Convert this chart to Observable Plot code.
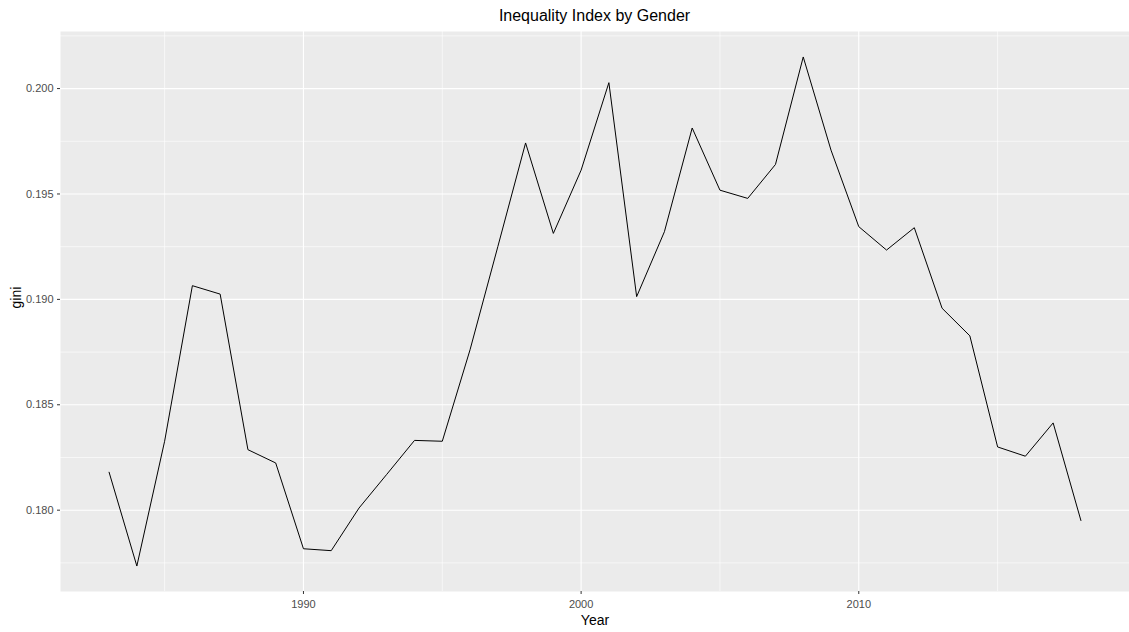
<!DOCTYPE html>
<html>
<head>
<meta charset="utf-8">
<script src="https://cdn.jsdelivr.net/npm/d3@7"></script>
<script src="https://cdn.jsdelivr.net/npm/@observablehq/plot@0.6"></script>
<style>
  html, body { margin: 0; padding: 0; background: white; }
  #title {
    width: 1129px; height: 31px; box-sizing: border-box; padding-left: 60px;
    text-align: center; line-height: 31px;
    font-family: "Liberation Sans", Arial, sans-serif; font-size: 16px; color: #000;
  }
  #chart svg { display: block; }
</style>
</head>
<body>
<div id="title">Inequality Index by Gender</div>
<div id="chart"></div>
<script>
const years = [1983,1984,1985,1986,1987,1988,1989,1990,1991,1992,1993,1994,1995,1996,1997,1998,1999,2000,
  2001,2002,2003,2004,2005,2006,2007,2008,2009,2010,2011,2012,2013,2014,2015,2016,2017,2018];
const gini = [0.1818,0.17735,0.18327,0.19065,0.19025,0.18287,0.18224,0.17817,0.17808,0.18010,0.18170,0.18331,0.18327,
  0.18761,0.19250,0.19742,0.19313,0.19613,0.20028,0.19013,0.19321,0.19813,0.19518,0.19479,0.19640,0.20150,
  0.19708,0.19345,0.19234,0.19340,0.18958,0.18827,0.18300,0.18256,0.18414,0.17951];
const xMajor = [1990, 2000, 2010];
const xMinor = [1985, 1995, 2005, 2015];
const yMajor = [0.180, 0.185, 0.190, 0.195, 0.200];
const yMinor = [0.1775, 0.1825, 0.1875, 0.1925, 0.1975, 0.2025];
const xLabel = "Year";
const yLabel = "gini";

const data = years.map((y, i) => ({Year: y, gini: gini[i]}));
const xr = d3.extent(years), yr = d3.extent(gini);
const xpad = (xr[1] - xr[0]) * 0.05, ypad = (yr[1] - yr[0]) * 0.05;

const chart = Plot.plot({
  width: 1129,
  height: 601,
  marginTop: 0,
  marginBottom: 41,
  marginLeft: 60,
  marginRight: 0,
  style: {fontFamily: "Liberation Sans, Arial, sans-serif", fontSize: "11px", background: "white"},
  x: {domain: [xr[0] - xpad, xr[1] + xpad]},
  y: {domain: [yr[0] - ypad, yr[1] + ypad]},
  marks: [
    Plot.frame({fill: "#EBEBEB", stroke: null}),
    Plot.ruleX(xMinor, {stroke: "white", strokeWidth: 0.6}),
    Plot.ruleY(yMinor, {stroke: "white", strokeWidth: 0.6}),
    Plot.ruleX(xMajor, {stroke: "white", strokeWidth: 1.1}),
    Plot.ruleY(yMajor, {stroke: "white", strokeWidth: 1.1}),
    Plot.line(data, {x: "Year", y: "gini", stroke: "black", strokeWidth: 1}),
    Plot.axisX({ticks: xMajor, tickFormat: d => String(d), tickSize: 3, tickPadding: 6,
      stroke: "#333333", color: "#4D4D4D", fontSize: 11, label: null}),
    Plot.axisY({ticks: yMajor, tickFormat: d3.format(".3f"), tickSize: 3, tickPadding: 4,
      stroke: "#333333", color: "#4D4D4D", fontSize: 11, label: null}),
    Plot.text([xLabel], {frameAnchor: "bottom", dy: 33, fontSize: 14, fill: "black"}),
    Plot.text([yLabel], {frameAnchor: "left", dx: -44, dy: -3, rotate: -90, fontSize: 14, fill: "black"})
  ]
});
document.getElementById("chart").appendChild(chart);
</script>
</body>
</html>
